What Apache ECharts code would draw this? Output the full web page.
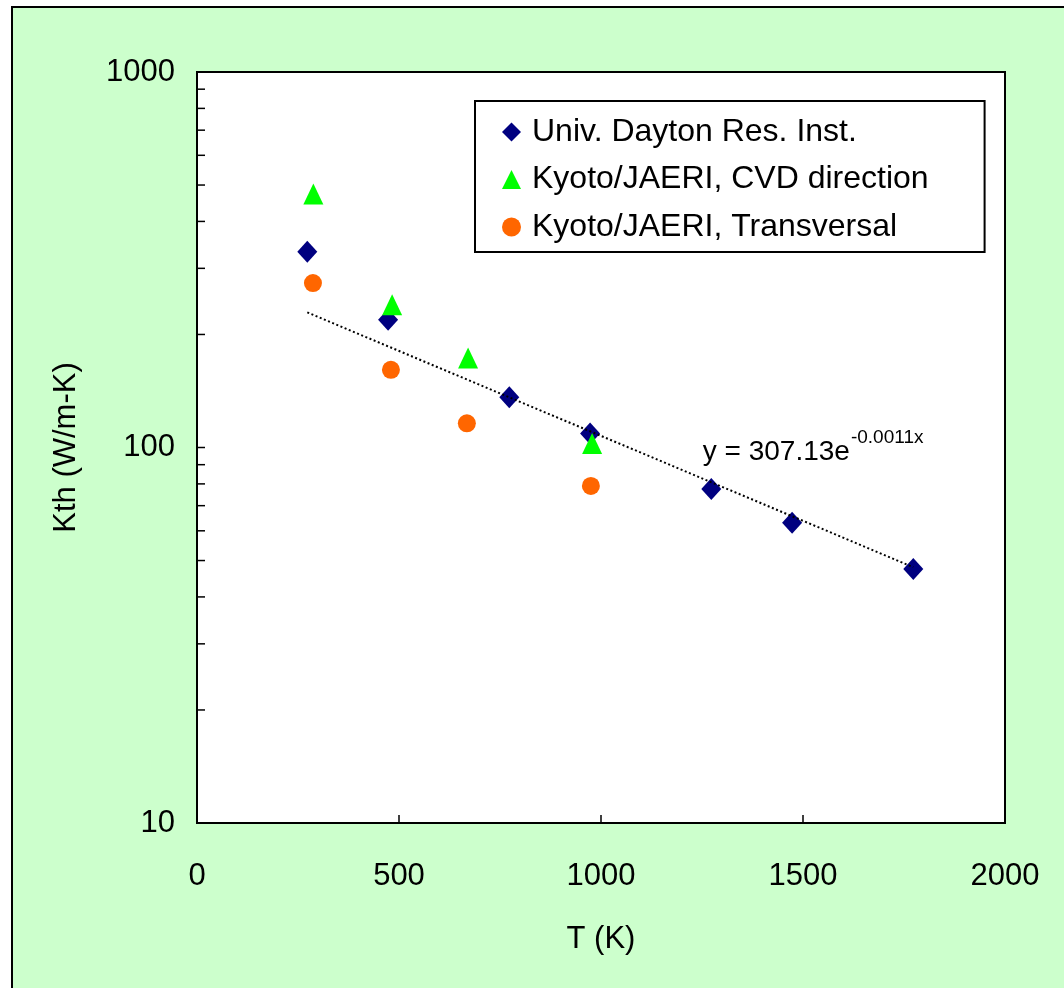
<!DOCTYPE html>
<html>
<head>
<meta charset="utf-8">
<script src="https://cdn.jsdelivr.net/npm/echarts@6/dist/echarts.min.js"></script>
<style>
  html, body { margin: 0; padding: 0; background: #fff; }
  #frame { position: absolute; left: 11px; top: 6px; right: 0; bottom: 0; background: #ccffcc;
           border-left: 2px solid #000; border-top: 2px solid #000; }
  #chart { position: absolute; left: 0; top: 0; width: 1064px; height: 988px; }
</style>
</head>
<body>
<div id="frame"></div>
<div id="chart"></div>
<script>
// values
const daytonT = [273, 473, 773, 973, 1273, 1473, 1773];
const daytonK = [332, 219, 136, 109, 77.5, 63, 47.5];
const cvdT = [288, 483, 671, 978];
const cvdK = [473, 240, 173, 102.5];
const transT = [287, 480, 668, 975];
const transK = [274, 161, 116, 79];
// exponential trendline (straight on log y), end points
const trendT = [273, 1773];
const trendK = [229, 48];

// y ticks: decades + 2..9 in between
const yTickValues = [10, 20, 30, 40, 50, 60, 70, 80, 90, 100,
  200, 300, 400, 500, 600, 700, 800, 900, 1000];
const yLabelValues = [10, 100, 1000];

const seriesNames = ['Univ. Dayton Res. Inst.', 'Kyoto/JAERI, CVD direction', 'Kyoto/JAERI, Transversal'];
const eqMain = 'y = 307.13e';
const eqSup = '-0.0011x';
const eqAnchor = [1252, 97.3];

const font = '"Liberation Sans", Arial, sans-serif';
const pairs = (xs, ys) => xs.map((x, i) => [x, ys[i]]);

const chart = echarts.init(document.getElementById('chart'));
const option = {
  backgroundColor: 'transparent',
  textStyle: { fontFamily: font, color: '#000' },
  grid: {
    left: 197, top: 72, right: 59, bottom: 165,
    show: true, backgroundColor: '#fff', borderColor: '#000', borderWidth: 2
  },
  legend: {
    data: seriesNames,
    orient: 'vertical',
    left: 475, top: 101,
    padding: [15, 56, 9, 27],
    itemGap: 15.5,
    itemWidth: 19, itemHeight: 19,
    backgroundColor: '#fff', borderColor: '#000', borderWidth: 2, borderRadius: 0,
    textStyle: { fontSize: 32, fontFamily: font, color: '#000', lineHeight: 32, padding: [0, 0, 0, 6] }
  },
  xAxis: {
    type: 'value', min: 0, max: 2000, interval: 500,
    name: 'T (K)', nameLocation: 'middle', nameGap: 101,
    nameTextStyle: { fontSize: 31, fontFamily: font, color: '#000' },
    axisLine: { show: true, lineStyle: { color: '#000', width: 2 } },
    axisTick: { show: true, inside: true, length: 8, lineStyle: { color: '#000', width: 1.5 } },
    axisLabel: { fontSize: 31, fontFamily: font, color: '#000', margin: 38,
                 formatter: v => String(Math.round(v)) },
    splitLine: { show: false }
  },
  yAxis: {
    type: 'log', logBase: 10, min: 10, max: 1000,
    name: 'Kth (W/m-K)', nameLocation: 'middle', nameGap: 115,
    nameTextStyle: { fontSize: 31, fontFamily: font, color: '#000' },
    axisLine: { show: true, lineStyle: { color: '#000', width: 2 } },
    axisTick: { show: false },
    axisLabel: { fontSize: 31, fontFamily: font, color: '#000', margin: 22, customValues: yLabelValues,
                 formatter: v => String(Math.round(v)) },
    splitLine: { show: false },
    minorTick: { show: false }
  },
  series: [
    {
      // inward ticks on the log axis
      name: 'yticks', type: 'custom', silent: true, z: 2,
      data: yTickValues.map(v => [0, v]),
      renderItem: (params, api) => {
        const pt = api.coord([api.value(0), api.value(1)]);
        return { type: 'line', shape: { x1: pt[0], y1: pt[1], x2: pt[0] + 8, y2: pt[1] },
                 style: { stroke: '#000', lineWidth: 1.5 } };
      }
    },
    {
      name: seriesNames[0], type: 'scatter', symbol: 'diamond', symbolSize: [20, 22],
      itemStyle: { color: '#000080', opacity: 1 }, data: pairs(daytonT, daytonK), z: 3
    },
    {
      name: seriesNames[1], type: 'scatter', symbol: 'triangle', symbolSize: [20, 21],
      itemStyle: { color: '#00ff00', opacity: 1 }, data: pairs(cvdT, cvdK), z: 4
    },
    {
      name: seriesNames[2], type: 'scatter', symbol: 'circle', symbolSize: 18,
      itemStyle: { color: '#ff6600', opacity: 1 }, data: pairs(transT, transK), z: 5
    },
    {
      name: 'trend', type: 'line', showSymbol: false, silent: true,
      lineStyle: { color: '#000', width: 2, type: [2, 2.5] },
      data: pairs(trendT, trendK), z: 6
    }
  ]
};
chart.setOption(option);

// trendline equation with superscript exponent
const ctx = document.createElement('canvas').getContext('2d');
ctx.font = '28px ' + font;
const mainW = ctx.measureText(eqMain).width;
const p = chart.convertToPixel({ gridIndex: 0 }, eqAnchor);
chart.setOption({
  graphic: [
    { type: 'text', x: p[0], y: p[1], z: 10,
      style: { text: eqMain, font: '28px ' + font, fill: '#000', textAlign: 'left', textVerticalAlign: 'middle' } },
    { type: 'text', x: p[0] + mainW + 1, y: p[1] - 14, z: 10,
      style: { text: eqSup, font: '19px ' + font, fill: '#000', textAlign: 'left', textVerticalAlign: 'middle' } }
  ]
});
</script>
</body>
</html>
